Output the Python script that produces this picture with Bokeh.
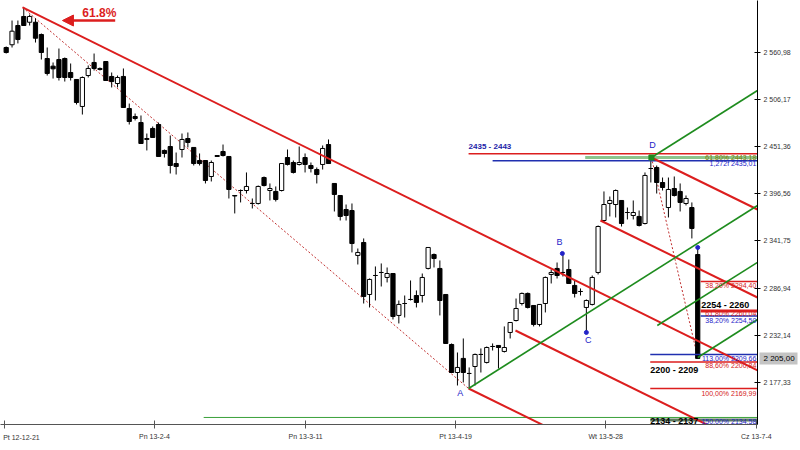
from bokeh.plotting import figure
from bokeh.models import (FixedTicker, Label, LabelSet, ColumnDataSource, Arrow, NormalHead,
                          LinearAxis)
from bokeh.core.properties import value
from bokeh.embed import file_html
from bokeh.resources import INLINE

# ---------------- data ----------------
opens = [2566.8, 2570.0, 2592.4, 2602.9, 2596.2, 2596.2, 2581.9, 2554.0, 2545.1, 2552.8,
         2554.0, 2537.7, 2529.6, 2498.2, 2534.2, 2549.4, 2541.2, 2550.5, 2533.1, 2524.9,
         2533.1, 2495.8, 2486.5, 2479.5, 2459.8, 2472.6, 2477.2, 2447.0, 2451.6, 2431.8,
         2448.1, 2460.9, 2450.5, 2435.3, 2435.3, 2416.7, 2441.1, 2445.8, 2440.0, 2394.6,
         2400.4, 2400.4, 2385.3, 2385.3, 2415.5, 2400.4, 2399.3, 2400.4, 2438.8, 2433.0,
         2430.7, 2438.8, 2429.5, 2424.8, 2430.7, 2453.9, 2408.6, 2394.6, 2378.3, 2377.1,
         2324.8, 2339.9, 2279.4, 2301.5, 2305.0, 2299.2, 2303.8, 2255.0, 2268.9, 2273.6,
         2278.2, 2278.2, 2309.7, 2325.9, 2309.7, 2279.4, 2221.2, 2188.6, 2205.0, 2187.5,
         2195.6, 2209.6, 2200.3, 2218.9, 2220.1, 2213.1, 2235.2, 2249.1, 2268.9, 2280.6,
         2266.6, 2244.5, 2268.9, 2302.7, 2309.7, 2305.0, 2308.5, 2289.9, 2282.9, 2264.3,
         2267.8, 2305.0, 2365.5, 2385.3, 2384.1, 2388.8, 2374.8, 2371.3, 2370.2, 2362.0,
         2426.0, 2427.2, 2409.7, 2380.6, 2402.7, 2399.3, 2385.3, 2380.6, 2325.9]
highs = [2568.0, 2598.2, 2598.2, 2613.4, 2605.2, 2600.6, 2583.1, 2566.8, 2549.4, 2565.6,
         2555.2, 2548.2, 2529.6, 2533.1, 2545.9, 2559.8, 2543.6, 2550.5, 2537.7, 2534.2,
         2542.4, 2501.6, 2490.0, 2487.7, 2466.7, 2474.9, 2479.5, 2448.1, 2464.4, 2444.6,
         2466.7, 2467.9, 2450.5, 2443.5, 2435.3, 2435.3, 2441.1, 2453.9, 2440.0, 2394.6,
         2401.6, 2421.4, 2391.1, 2406.2, 2416.7, 2408.6, 2405.1, 2431.8, 2448.1, 2435.3,
         2451.6, 2443.5, 2433.0, 2427.2, 2452.8, 2459.8, 2408.6, 2394.6, 2384.1, 2385.3,
         2332.9, 2344.6, 2298.0, 2312.0, 2315.5, 2310.8, 2303.8, 2272.4, 2278.2, 2295.7,
         2284.1, 2303.8, 2334.1, 2327.1, 2319.0, 2279.4, 2222.4, 2211.9, 2228.2, 2194.5,
         2210.7, 2216.6, 2218.9, 2222.4, 2220.1, 2242.2, 2246.8, 2274.7, 2281.7, 2281.7,
         2266.6, 2267.8, 2300.3, 2308.5, 2316.6, 2327.1, 2320.1, 2295.7, 2286.4, 2273.6,
         2301.5, 2359.7, 2399.3, 2393.4, 2401.6, 2388.8, 2380.6, 2388.8, 2377.1, 2421.4,
         2440.0, 2429.5, 2415.5, 2415.5, 2416.7, 2408.6, 2394.6, 2386.5, 2335.3]
lows = [2559.8, 2566.8, 2571.5, 2592.4, 2592.4, 2572.6, 2552.8, 2534.2, 2530.7, 2528.4,
        2527.2, 2528.4, 2500.5, 2488.8, 2531.9, 2540.0, 2540.0, 2528.4, 2520.3, 2520.3,
        2497.0, 2477.2, 2481.9, 2455.1, 2447.0, 2462.1, 2440.0, 2438.8, 2420.2, 2419.0,
        2438.8, 2450.5, 2429.5, 2429.5, 2408.6, 2410.9, 2440.0, 2440.0, 2391.1, 2373.7,
        2386.5, 2396.9, 2379.5, 2384.1, 2405.1, 2388.8, 2387.6, 2399.3, 2429.5, 2420.2,
        2429.5, 2421.4, 2421.4, 2408.6, 2424.8, 2431.8, 2376.0, 2365.5, 2365.5, 2328.3,
        2314.3, 2268.9, 2264.3, 2272.4, 2288.7, 2293.4, 2250.3, 2245.7, 2252.6, 2272.4,
        2264.3, 2270.1, 2308.5, 2310.8, 2255.0, 2222.4, 2188.6, 2173.5, 2177.0, 2170.0,
        2173.5, 2188.6, 2199.1, 2214.2, 2193.3, 2211.9, 2228.2, 2248.0, 2266.6, 2263.1,
        2242.2, 2242.2, 2258.5, 2292.2, 2298.0, 2300.3, 2292.2, 2275.9, 2278.2, 2235.2,
        2266.6, 2302.7, 2363.2, 2370.2, 2369.0, 2358.5, 2366.7, 2366.7, 2358.5, 2360.9,
        2409.7, 2396.9, 2400.4, 2369.0, 2393.4, 2376.0, 2383.0, 2344.6, 2205.0]
closes = [2561.0, 2585.8, 2576.1, 2592.4, 2602.9, 2577.6, 2561.0, 2536.6, 2542.0, 2531.9,
          2531.9, 2531.9, 2502.8, 2531.9, 2542.4, 2542.4, 2542.4, 2528.4, 2527.2, 2531.9,
          2497.0, 2480.7, 2484.2, 2455.1, 2460.9, 2462.1, 2440.0, 2443.5, 2429.5, 2428.3,
          2459.8, 2456.3, 2431.8, 2431.8, 2412.1, 2433.0, 2440.0, 2441.1, 2401.6, 2394.0,
          2400.4, 2405.1, 2385.3, 2405.1, 2406.2, 2402.7, 2389.9, 2431.8, 2430.7, 2421.4,
          2433.0, 2430.7, 2426.0, 2419.0, 2449.3, 2431.8, 2395.8, 2370.2, 2371.3, 2338.7,
          2328.3, 2277.1, 2296.9, 2301.5, 2305.0, 2303.8, 2253.8, 2267.8, 2268.9, 2273.6,
          2270.1, 2299.2, 2334.1, 2321.3, 2272.4, 2222.4, 2188.6, 2194.5, 2188.6, 2187.5,
          2209.6, 2209.6, 2217.7, 2218.9, 2217.7, 2217.7, 2246.8, 2263.1, 2280.6, 2264.3,
          2244.5, 2267.8, 2299.2, 2305.0, 2301.5, 2305.0, 2292.2, 2280.6, 2282.9, 2272.4,
          2299.2, 2358.5, 2384.1, 2388.8, 2400.4, 2362.0, 2374.8, 2374.8, 2359.7, 2417.9,
          2426.0, 2409.7, 2403.9, 2401.6, 2394.6, 2386.5, 2391.1, 2356.2, 2205.0]

x_tick_pos = [-0.3, 25.3, 51.1, 76.7, 102.3, 128.0]
x_tick_labels = ["Pt 12-12-21", "Pn 13-2-4", "Pn 13-3-11", "Pt 13-4-19", "Wt 13-5-28", "Cz 13-7-4"]
first_label_pos = 2.6
y_tick_pos = [2177.33, 2232.14, 2286.94, 2341.75, 2396.56, 2451.36, 2506.17, 2560.98]
y_tick_labels = ["2 177,33", "2 232,14", "2 286,94", "2 341,75", "2 396,56", "2 451,36", "2 506,17", "2 560,98"]
last_price = 2205.00
last_price_label = "2 205,00"

# trend lines (bar index, price)
red_x0 = [2.8, 110.1, 101.4, 86.9, 78.9]
red_y0 = [2613.4, 2438.8, 2365.5, 2237.5, 2170.0]
red_x1 = [128.2, 128.2, 128.2, 128.2, 100.0]
red_y1 = [2191.0, 2378.3, 2275.9, 2099.0, 2099.3]
green_x0 = [78.9, 110.1, 111.1, 118.0]
green_y0 = [2170.0, 2438.8, 2243.3, 2206.1]
green_x1 = [128.2, 128.2, 128.2, 128.2]
green_y1 = [2383.0, 2516.8, 2316.8, 2250.3]
dash_x0 = [2.8, 110.1]
dash_y0 = [2613.4, 2438.8]
dash_x1 = [78.9, 118.0]
dash_y1 = [2170.0, 2206.1]

# horizontal levels
lvl_red = [2443.18, 2294.40, 2200.84, 2169.99]
lvl_red_start = [78.9, 118.5, 109.9, 109.9]
lvl_red_bold = [2260.04]
lvl_red_bold_start = [118.5]
lvl_blue = [2435.01, 2254.50, 2209.66]
lvl_blue_start = [83.0, 118.5, 109.9]
lvl_lightgreen = [2438.8]
lvl_lightgreen_start = [98.8]
lvl_green = [2136.3]
lvl_green_start = [33.7]
lvl_dark = [2133.4]
lvl_dark_start = [109.9]

lvl_text = ["61,80% 2443,18", "1,272f 2435,01", "38,20% 2294,40", "61,80% 2260,04",
            "38,20% 2254,50", "113,00% 2209,66", "88,60% 2200,84", "100,00% 2169,99",
            "150,00% 2134,58"]
lvl_text_y = [2438.8, 2431.8, 2289.3, 2256.7, 2249.7, 2204.9, 2196.8, 2164.2, 2131.6]
lvl_text_color = ["#7a7a00", "#2323c8", "#d42020", "#d42020", "#2323c8", "#2323c8",
                  "#d42020", "#d42020", "#2323c8"]

zone_text = ["2254 - 2260", "2200 - 2209", "2134 - 2137"]
zone_x = [126.8, 109.9, 109.9]
zone_y = [2266.6, 2191.0, 2132.4]
zone_align = ["right", "left", "left"]

pivot_names = ["A", "B", "C", "D"]
pivot_label_x = [77.5, 94.4, 99.3, 110.3]
pivot_label_y = [2164.2, 2339.9, 2227.0, 2453.9]
marker_x = [94.9, 99.0, 118.0]
marker_y = [2327.1, 2235.2, 2334.1]

# ---------------- figure ----------------
RED = "#dc1e1e"
GREEN = "#1e8c1e"
FONT = "Liberation Sans"

p = figure(width=800, height=450, x_range=(-0.97, 128.2), y_range=(2128.1, 2621.5),
           output_backend="svg", toolbar_location=None, y_axis_location="right",
           min_border_left=0, min_border_top=0, min_border_right=43, min_border_bottom=26)
p.outline_line_color = None
p.xgrid.grid_line_color = None
p.ygrid.grid_line_color = None
p.background_fill_color = "white"

n = len(opens)
xs = list(range(n))
up = [c > o for o, c in zip(opens, closes)]
src = ColumnDataSource(dict(
    x=xs, o=opens, h=highs, l=lows, c=closes,
    top=[max(o, c) for o, c in zip(opens, closes)],
    bottom=[min(o, c) for o, c in zip(opens, closes)],
    fill=["white" if u else "black" for u in up]))

# long green horizontal (behind)
p.segment(x0=lvl_green_start, y0=lvl_green, x1=[128.2] * len(lvl_green), y1=lvl_green,
          line_color="#3aa03a", line_width=1)

# dashed lines
p.segment(x0=dash_x0, y0=dash_y0, x1=dash_x1, y1=dash_y1, line_color="#c03030",
          line_width=1, line_dash="2 2")

# candles
p.segment(x0="x", y0="h", x1="x", y1="l", source=src, line_color="black", line_width=1)
p.vbar(x="x", top="top", bottom="bottom", width=0.72, source=src,
       fill_color="fill", line_color="black", line_width=1)

# horizontal levels
p.segment(x0=lvl_lightgreen_start, y0=lvl_lightgreen, x1=[128.2] * len(lvl_lightgreen),
          y1=lvl_lightgreen, line_color="#8cc48c", line_width=3)
p.segment(x0=lvl_red_start, y0=lvl_red, x1=[128.2] * len(lvl_red), y1=lvl_red,
          line_color=RED, line_width=1.5)
p.segment(x0=lvl_red_bold_start, y0=lvl_red_bold, x1=[128.2] * len(lvl_red_bold),
          y1=lvl_red_bold, line_color=RED, line_width=3)
p.segment(x0=lvl_blue_start, y0=lvl_blue, x1=[128.2] * len(lvl_blue), y1=lvl_blue,
          line_color="#2030b0", line_width=1.5)
p.segment(x0=lvl_dark_start, y0=lvl_dark, x1=[128.2] * len(lvl_dark), y1=lvl_dark,
          line_color="#5f7a5f", line_width=3)

# trend lines
p.segment(x0=red_x0, y0=red_y0, x1=red_x1, y1=red_y1, line_color=RED, line_width=2)
p.segment(x0=green_x0, y0=green_y0, x1=green_x1, y1=green_y1, line_color=GREEN, line_width=1.6)

# markers
p.scatter(x=marker_x, y=marker_y, size=4, marker="circle", fill_color="#2323c8", line_color="#2323c8")
p.scatter(x=[110.1], y=[2438.8], size=5, marker="square", fill_color=GREEN, line_color=GREEN)

# level texts
p.add_layout(LabelSet(x="x", y="y", text="text", source=ColumnDataSource(dict(
    x=[128.0] * len(lvl_text), y=lvl_text_y, text=lvl_text, color=lvl_text_color)),
    text_align="right", text_baseline="middle", text_font_size="7px",
    text_color="color", text_font=value(FONT)))

for t, x, y, a in zip(zone_text, zone_x, zone_y, zone_align):
    p.add_layout(Label(x=x, y=y, text=t, text_align=a, text_baseline="middle",
                       text_font_size="9px", text_font_style="bold", text_color="black",
                       text_font=FONT))
p.add_layout(Label(x=78.9, y=2451.6, text="2435 - 2443", text_align="left",
                   text_baseline="middle", text_font_size="8px", text_font_style="bold",
                   text_color="#1c1ca8", text_font=FONT))

for t, x, y in zip(pivot_names, pivot_label_x, pivot_label_y):
    p.add_layout(Label(x=x, y=y, text=t, text_align="center", text_baseline="middle",
                       text_font_size="9px", text_color="#2323c8", text_font=FONT))

# arrow + 61.8%
p.add_layout(Arrow(end=NormalHead(size=11, fill_color=RED, line_color=RED),
                   x_start=18.6, y_start=2598.2, x_end=9.6, y_end=2598.2,
                   line_color=RED, line_width=2.5))
p.add_layout(Label(x=15.9, y=2607.5, text="61.8%", text_align="center", text_baseline="middle",
                   text_font_size="12px", text_font_style="bold", text_color=RED, text_font=FONT))

# ---------------- axes ----------------
p.yaxis.ticker = FixedTicker(ticks=y_tick_pos)
p.yaxis.major_label_overrides = {k: v for k, v in zip(y_tick_pos, y_tick_labels)}
p.yaxis.minor_tick_line_color = None
p.yaxis.major_tick_in = 3
p.yaxis.major_tick_out = 3
p.yaxis.axis_line_color = "black"
p.yaxis.major_label_text_font_size = "7px"
p.yaxis.major_label_text_color = "#333333"
p.yaxis.major_label_text_font = FONT
p.yaxis.major_label_standoff = 3

# last price tag: a second right axis with a single wide grey tick as the tag
price_axis = LinearAxis(ticker=FixedTicker(ticks=[last_price]),
                        major_label_overrides={last_price: last_price_label},
                        major_tick_in=34, major_tick_out=4, minor_tick_line_color=None,
                        major_tick_line_color="#c4c4c4", major_tick_line_width=12,
                        axis_line_color=None,
                        major_label_text_font_size="8px", major_label_text_color="black",
                        major_label_text_font=FONT, major_label_standoff=-34)
p.add_layout(price_axis, "right")

p.xaxis.ticker = FixedTicker(ticks=x_tick_pos)
overrides = {k: v for k, v in zip(x_tick_pos, x_tick_labels)}
overrides[x_tick_pos[0]] = ""
p.xaxis.major_label_overrides = overrides
p.xaxis.minor_tick_line_color = None
p.xaxis.major_tick_in = 4
p.xaxis.major_tick_out = 4
p.xaxis.axis_line_color = "#555555"
p.xaxis.major_tick_line_color = "#555555"
p.xaxis.major_label_text_font_size = "7px"
p.xaxis.major_label_text_color = "#333333"
p.xaxis.major_label_text_font = FONT
p.xaxis.major_label_standoff = 4

first_axis = LinearAxis(ticker=FixedTicker(ticks=[first_label_pos]),
                        major_label_overrides={first_label_pos: x_tick_labels[0]},
                        major_tick_in=0, major_tick_out=0, minor_tick_line_color=None,
                        major_tick_line_color=None, axis_line_color=None,
                        major_label_text_font_size="7px", major_label_text_color="#333333",
                        major_label_text_font=FONT, major_label_standoff=-9)
p.add_layout(first_axis, "below")

open("out.html", "w").write(file_html(p, INLINE))
